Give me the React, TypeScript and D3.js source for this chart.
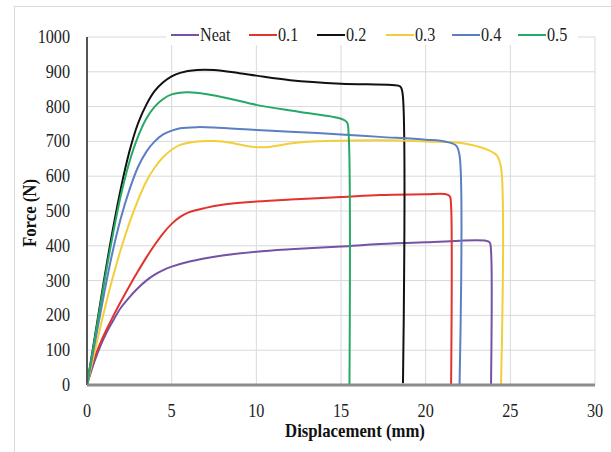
import React from "react";
import * as d3 from "d3";

const W = 611;
const H = 452;

const seriesNames = ["Neat", "0.1", "0.2", "0.3", "0.4", "0.5"];
const seriesColors = ["#7552a3", "#e2332f", "#111111", "#f2cf3a", "#5b7fc2", "#27a866"];

const neatX = [0, 0.4, 0.8, 1.2, 1.6, 2.0, 2.5, 3.0, 3.5, 4.0, 4.5, 5.0, 6.0, 7.0, 8.0, 10, 12, 15, 17.3, 20, 23.5, 23.78, 23.86, 23.86];
const neatY = [0, 62, 113, 155, 190, 222, 252, 278, 300, 317, 330, 340, 354, 364, 372, 383, 390, 398, 405, 410, 415, 410, 385, 0];

const p1X = [0, 0.4, 0.8, 1.2, 1.6, 2.0, 2.5, 3.0, 3.5, 4.0, 4.5, 5.0, 5.5, 6.0, 7.0, 8, 10, 12, 15, 17.3, 20, 21.1, 21.42, 21.5, 21.5];
const p1Y = [0, 72, 122, 164, 203, 240, 284, 326, 366, 403, 436, 463, 483, 496, 509, 518, 527, 533, 540, 546, 548, 549, 543, 515, 0];

const p2X = [0, 0.5, 1.0, 1.5, 2.0, 2.5, 3.0, 3.5, 4.0, 4.5, 5.0, 5.5, 6.5, 7.5, 9, 10, 12, 15, 18, 18.5, 18.63, 18.66];
const p2Y = [0, 150, 300, 440, 565, 670, 750, 805, 845, 870, 887, 897, 905, 905, 896, 889, 876, 866, 862, 858, 840, 5];

const p3X = [0, 0.5, 1.0, 1.5, 2.0, 2.5, 3.0, 3.5, 4.0, 4.5, 5.0, 5.5, 6.5, 7.5, 8.5, 9.5, 10.3, 11, 12, 13, 15, 17.3, 20, 22.2, 23.6, 24.2, 24.45, 24.45];
const p3Y = [0, 105, 210, 305, 390, 465, 530, 585, 625, 655, 676, 690, 700, 701, 696, 686, 683, 686, 694, 699, 702, 703, 700, 695, 677, 660, 625, 0];

const p4X = [0, 0.5, 1.0, 1.5, 2.0, 2.5, 3.0, 3.5, 4.0, 4.5, 5.0, 5.5, 6.5, 7.5, 10, 12, 15, 17.3, 20, 21.2, 21.8, 22.0, 22.0];
const p4Y = [0, 130, 260, 380, 480, 560, 625, 670, 700, 720, 731, 738, 741, 740, 733, 728, 720, 713, 705, 699, 688, 660, 0];

const p5X = [0, 0.5, 1.0, 1.5, 2.0, 2.5, 3.0, 3.5, 4.0, 4.5, 5.0, 5.5, 6.0, 7.0, 8.5, 10, 12.5, 15, 15.35, 15.45, 15.5];
const p5Y = [0, 145, 290, 425, 545, 640, 712, 765, 800, 822, 835, 840, 841, 836, 822, 805, 785, 765, 755, 720, 0];

const seriesX = [neatX, p1X, p2X, p3X, p4X, p5X];
const seriesY = [neatY, p1Y, p2Y, p3Y, p4Y, p5Y];

const xTicks = [0, 5, 10, 15, 20, 25, 30];
const yTicks = [0, 100, 200, 300, 400, 500, 600, 700, 800, 900, 1000];

const legendStarts = [171, 249, 317, 386, 452, 518];

export default function App() {
  const left = 87;
  const right = 595;
  const top = 37;
  const bottom = 385;
  const x = d3.scaleLinear().domain([0, 30]).range([left, right]);
  const y = d3.scaleLinear().domain([0, 1000]).range([bottom, top]);
  const line = d3
    .line<[number, number]>()
    .x((d) => x(d[0]))
    .y((d) => y(d[1]))
    .curve(d3.curveCatmullRom.alpha(0.5));

  const tickFont = { fontFamily: "'Liberation Serif', 'Times New Roman', serif", fontSize: 18, fill: "#222" };
  const titleFont = { fontFamily: "'Liberation Serif', 'Times New Roman', serif", fontSize: 18, fontWeight: 700, fill: "#111" };

  return (
    <svg width={W} height={H} style={{ position: "absolute", left: 0, top: 0, display: "block", background: "#fff" }}>
      <rect x={0} y={0} width={W} height={H} fill="#fff" />
      <line x1={14.5} y1={6} x2={14.5} y2={H} stroke="#d9d9d9" strokeWidth={1} />
      <line x1={14} y1={6.5} x2={W} y2={6.5} stroke="#d9d9d9" strokeWidth={1} />

      {xTicks.filter((t) => t > 0).map((t) => (
        <line key={"gx" + t} x1={x(t)} x2={x(t)} y1={top} y2={bottom} stroke="#d9d9d9" strokeWidth={1} />
      ))}
      {yTicks.filter((t) => t > 0).map((t) => (
        <line key={"gy" + t} x1={left} x2={right} y1={y(t)} y2={y(t)} stroke="#d9d9d9" strokeWidth={1} />
      ))}

      {seriesNames.map((n, i) => {
        const pts = seriesX[i].map((v, j) => [v, seriesY[i][j]] as [number, number]);
        return (
          <path key={n} d={line(pts) || ""} fill="none" stroke={seriesColors[i]} strokeWidth={2} strokeLinejoin="round" />
        );
      })}

      <line x1={left} x2={left} y1={top} y2={bottom} stroke="#555" strokeWidth={2} />
      <line x1={left} x2={right} y1={bottom} y2={bottom} stroke="#8c8c8c" strokeWidth={3} />

      <rect x={166} y={27} width={412} height={18} fill="#fff" />
      {seriesNames.map((n, i) => (
        <g key={"lg" + n}>
          <line x1={legendStarts[i]} x2={legendStarts[i] + 28} y1={35} y2={35} stroke={seriesColors[i]} strokeWidth={2} />
          <text transform={`translate(${legendStarts[i] + 29},41) scale(0.9,1)`} {...tickFont}>
            {n}
          </text>
        </g>
      ))}

      {yTicks.map((t) => (
        <text key={"yt" + t} transform={`translate(70,${y(t) + 6}) scale(0.9,1)`} textAnchor="end" {...tickFont}>
          {t}
        </text>
      ))}
      {xTicks.map((t) => (
        <text key={"xt" + t} transform={`translate(${x(t)},417) scale(0.9,1)`} textAnchor="middle" {...tickFont}>
          {t}
        </text>
      ))}

      <text transform={`translate(355,437) scale(0.93,1)`} textAnchor="middle" {...titleFont}>
        Displacement (mm)
      </text>
      <text transform={`translate(36,213) rotate(-90) scale(0.93,1)`} textAnchor="middle" {...titleFont}>
        Force (N)
      </text>
    </svg>
  );
}
